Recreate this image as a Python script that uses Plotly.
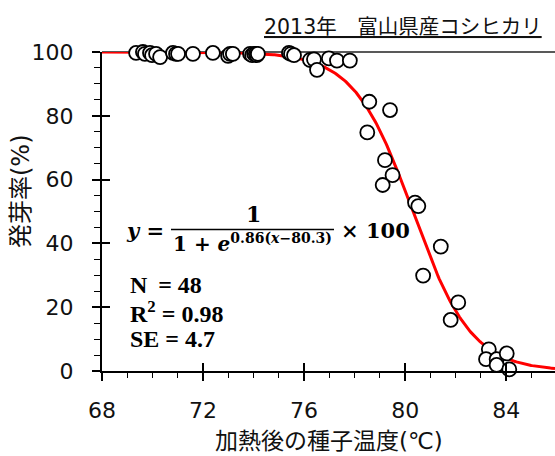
import numpy as np
import plotly.graph_objects as go

# Heated seed temperature (°C) and germination rate (%) for each lot
temperature = [
    69.35, 69.62, 69.70, 69.90, 69.98, 70.14, 70.30, 70.81, 70.93, 71.01,
    71.60, 72.39, 72.99, 73.07, 73.18, 73.86, 73.94, 74.02, 74.09,
    74.13, 74.17, 75.40, 75.48, 75.60, 76.23, 76.39, 76.51, 76.98, 77.30,
    77.81,
    78.58, 79.40, 78.50, 79.20, 79.50, 79.11, 80.39, 80.52, 81.41, 80.71,
    82.10, 81.80, 83.31, 83.20, 83.62, 84.02, 83.62, 84.12,
]
germination = [
    99.7, 100.0, 99.4, 99.7, 99.0, 99.4, 98.4, 99.7, 99.4, 99.4,
    99.4, 99.7, 98.8, 99.4, 99.4, 99.4, 99.0, 99.4, 99.4,
    99.0, 99.4, 99.7, 99.4, 99.0, 97.5, 97.7, 94.4, 98.0, 97.3,
    97.3,
    84.4, 81.8, 74.8, 66.1, 61.4, 58.3, 52.8, 51.7, 39.0, 29.9,
    21.5, 16.0, 6.8, 3.7, 3.7, 5.5, 1.9, 0.5,
]

# Logistic fit: y = 100 / (1 + exp(k (x - t50)))
fit_k = 0.86
fit_t50 = 80.3
stats_text = ["N \u2009= 48", "R<sup>2</sup> = 0.98", "SE = 4.7"]

x_ticks = [68, 72, 76, 80, 84]
y_ticks = [0, 20, 40, 60, 80, 100]
x_range = [68, 85.93]
y_range = [0, 100]

title_text = "<u>2013年　富山県産コシヒカリ</u>"
x_title = "加熱後の種子温度(℃)"
y_title = "発芽率(%)"

W, H = 555, 456
ML, MR, MT, MB = 102, 0, 52, 85
PW, PH = W - ML - MR, H - MT - MB


def px(xp):
    return (xp - ML) / PW


def py(yp):
    return (H - MB - yp) / PH


SANS = "DejaVu Sans, Noto Sans CJK JP, sans-serif"
SERIF = "DejaVu Serif, serif"
TEXT_SERIF = "Liberation Serif, serif"

curve_x = np.linspace(x_range[0], x_range[1], 400)
curve_y = 100.0 / (1.0 + np.exp(fit_k * (curve_x - fit_t50)))

fig = go.Figure()
fig.add_trace(go.Scatter(
    x=curve_x, y=curve_y, mode="lines",
    line=dict(color="#ff0000", width=3), hoverinfo="skip", cliponaxis=False,
))
fig.add_trace(go.Scatter(
    x=temperature, y=germination, mode="markers",
    marker=dict(size=14, color="white", line=dict(color="black", width=1.8)),
    cliponaxis=False,
))
# empty trace so the overlay axes (inner half of major ticks) get drawn
fig.add_trace(go.Scatter(x=[None], y=[None], xaxis="x2", yaxis="y2",
                         showlegend=False, hoverinfo="skip"))

tick_font = dict(family=SANS, size=22, color="#111111")
fig.update_layout(
    width=W, height=H,
    margin=dict(l=ML, r=MR, t=MT, b=MB),
    paper_bgcolor="white", plot_bgcolor="white",
    showlegend=False,
    xaxis=dict(
        range=x_range, tickvals=x_ticks, ticks="outside", ticklen=8,
        tickwidth=1.5, tickcolor="black", showline=True, linecolor="black",
        linewidth=2, showgrid=False, zeroline=False,
        tickfont=tick_font, ticklabelstandoff=11,
        minor=dict(dtick=1, ticks="outside", ticklen=5, tickwidth=1.2,
                   tickcolor="black", showgrid=False),
    ),
    yaxis=dict(
        range=y_range, tickvals=y_ticks, ticks="outside", ticklen=8,
        tickwidth=1.5, tickcolor="black", showline=True, linecolor="black",
        linewidth=2, showgrid=False, zeroline=False,
        tickfont=tick_font, ticklabelstandoff=14,
        minor=dict(dtick=5, ticks="outside", ticklen=6, tickwidth=1.2,
                   tickcolor="black", showgrid=False),
    ),
    xaxis2=dict(
        range=x_range, tickvals=x_ticks, ticks="inside", ticklen=8,
        tickwidth=1.5, tickcolor="black", showticklabels=False,
        showline=False, showgrid=False, zeroline=False,
        overlaying="x", anchor="y2", side="bottom",
    ),
    yaxis2=dict(
        range=y_range, tickvals=y_ticks, ticks="inside", ticklen=8,
        tickwidth=1.5, tickcolor="black", showticklabels=False,
        showline=False, showgrid=False, zeroline=False,
        overlaying="y", anchor="x2", side="left",
    ),
)

annotations = [
    dict(text=title_text, x=px(544), y=py(27), xanchor="right", yanchor="middle",
         font=dict(family=SANS, size=20.5, color="#111111")),
    dict(text=x_title, x=px(329), y=py(441), xanchor="center", yanchor="middle",
         font=dict(family=SANS, size=23, color="#111111")),
    dict(text=y_title, x=px(21), y=py(191), xanchor="center", yanchor="middle",
         textangle=-90, font=dict(family=SANS, size=24, color="#111111")),
    # fitted equation, built as a stacked fraction
    dict(text="<b><i>y</i> =</b>", x=px(124), y=py(231), xanchor="left",
         yanchor="middle", font=dict(family=SERIF, size=21, color="black")),
    dict(text="<b>1</b>", x=px(253), y=py(214), xanchor="center",
         yanchor="middle", font=dict(family=SERIF, size=22, color="black")),
    dict(text=f"<b>1 + <i>e</i><sup>{fit_k}(<i>x</i>\u2212{fit_t50})</sup></b>",
         x=px(252), y=py(243), xanchor="center", yanchor="middle",
         font=dict(family=SERIF, size=20, color="black")),
    dict(text="<b>\u00d7 100</b>", x=px(339), y=py(230), xanchor="left",
         yanchor="middle", font=dict(family=SERIF, size=21, color="black")),
]
for i, s in enumerate(stats_text):
    annotations.append(dict(
        text=f"<b>{s}</b>", x=px(128), y=py(285 + 27 * i), xanchor="left",
        yanchor="middle", font=dict(family=TEXT_SERIF, size=24, color="black")))
for a in annotations:
    a.update(xref="paper", yref="paper", showarrow=False)
fig.update_layout(annotations=annotations)

# fraction bar and the thin frame line along the top of the plot
fig.add_shape(type="line", xref="paper", yref="paper",
              x0=px(171), x1=px(334), y0=py(229.5), y1=py(229.5),
              line=dict(color="black", width=1.5))
fig.add_shape(type="line", xref="paper", yref="paper", layer="below",
              x0=0, x1=1, y0=1, y1=1, line=dict(color="#222222", width=1.4))

fig.write_html("out.html")
